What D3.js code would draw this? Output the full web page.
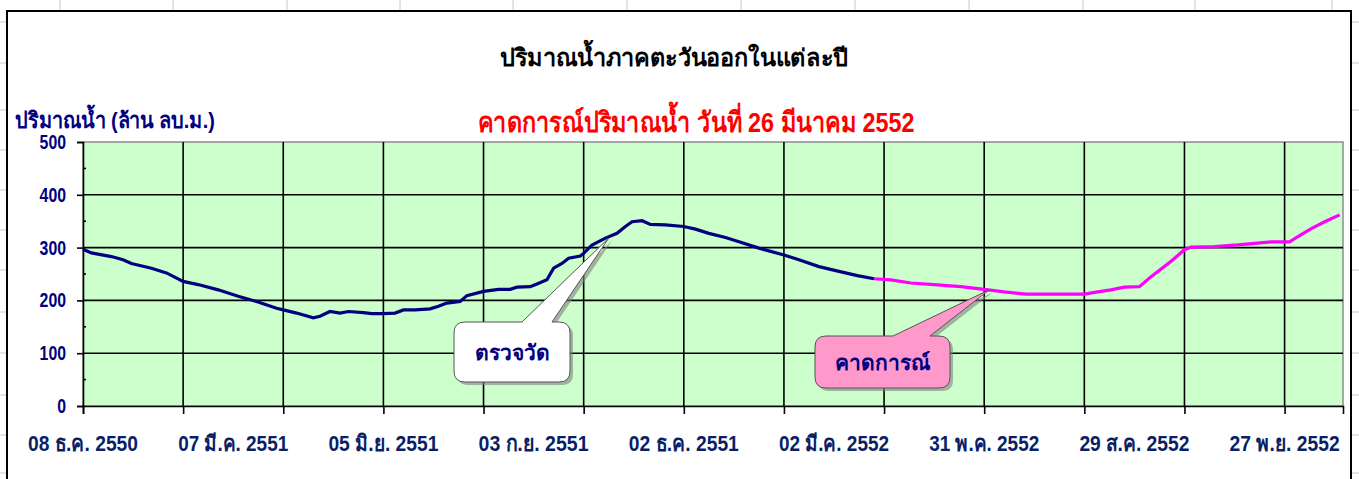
<!DOCTYPE html>
<meta charset="utf-8">
<style>
  body { margin: 0; background: #fff; }
  text { font-family: "Liberation Sans Narrow", "Arial Narrow", "Liberation Sans", sans-serif; font-weight: bold; }
</style>
<body>
<script src="https://cdn.jsdelivr.net/npm/d3@7/dist/d3.min.js"></script>
<script>

var width = 1359,
    height = 479;

// ตรวจวัด (measured)
var obsDates = ["2007-12-08","2007-12-13","2007-12-25","2008-01-01","2008-01-06","2008-01-18","2008-01-27",
  "2008-02-06","2008-02-15","2008-02-27","2008-03-10","2008-03-21","2008-04-02","2008-04-06","2008-04-14",
  "2008-04-24","2008-04-28","2008-05-04","2008-05-10","2008-05-15","2008-05-24","2008-05-29","2008-06-05",
  "2008-06-12","2008-06-17","2008-06-24","2008-07-03","2008-07-08","2008-07-13","2008-07-21","2008-07-25",
  "2008-08-04","2008-08-13","2008-08-20","2008-08-24","2008-09-01","2008-09-05","2008-09-11","2008-09-15",
  "2008-09-20","2008-09-24","2008-10-01","2008-10-03","2008-10-08","2008-10-16","2008-10-23","2008-10-28",
  "2008-11-01","2008-11-07","2008-11-12","2008-11-21","2008-12-02","2008-12-09","2008-12-17","2008-12-27",
  "2009-01-06","2009-01-16","2009-01-31","2009-02-09","2009-02-21","2009-03-05","2009-03-16","2009-03-26"];
var obsValues = [297,290,283,277,270,261,252,
  236,230,220,208,198,185,182,176,
  167,170,179,176,179,177,175,175,
  176,182,182,184,189,195,198,209,
  217,221,221,225,226,231,239,261,
  270,280,284,289,305,318,327,340,
  349,351,344,343,340,335,327,319,
  309,299,286,277,264,255,247,241];

// คาดการณ์ (forecast)
var fcDates = ["2009-03-26","2009-04-05","2009-04-17","2009-05-01","2009-05-17","2009-05-31","2009-06-12",
  "2009-06-25","2009-07-12","2009-07-30","2009-08-07","2009-08-15","2009-08-23","2009-09-01","2009-09-08",
  "2009-09-20","2009-09-28","2009-10-02","2009-10-16","2009-10-30","2009-11-19","2009-11-30","2009-12-05",
  "2009-12-13","2009-12-21","2009-12-30"];
var fcValues = [241,239,233,230,226,221,216,
  212,212,212,216,220,225,226,245,
  274,296,301,302,305,311,311,321,
  336,349,362];

var gridDates = ["2007-12-08","2008-02-06","2008-04-06","2008-06-05","2008-08-04","2008-10-03","2008-12-02",
  "2009-01-31","2009-04-01","2009-05-31","2009-07-30","2009-09-28","2009-11-27"];
var labelDates = ["2007-12-08","2008-03-07","2008-06-05","2008-09-03","2008-12-02","2009-03-02",
  "2009-05-31","2009-08-29","2009-11-27"];
var labelText = ["08 ธ.ค. 2550","07 มี.ค. 2551","05 มิ.ย. 2551","03 ก.ย. 2551","02 ธ.ค. 2551",
  "02 มี.ค. 2552","31 พ.ค. 2552","29 ส.ค. 2552","27 พ.ย. 2552"];
var yTicks = [0, 100, 200, 300, 400, 500];
var yMinor = [50, 150, 250, 350, 450];

var parse = d3.utcParse("%Y-%m-%d");

var svg = d3.select("body").append("svg")
    .attr("width", width)
    .attr("height", height);

// spreadsheet cells behind the chart
var cols = [60,173,287,400,513,627,741,855,969,1083,1195,1332],
    rows = [22,63,110,150,190,230,270,312,353,395,435,473];
svg.selectAll(".col").data(cols).enter().append("line")
    .attr("x1", d => d).attr("x2", d => d).attr("y1", 0).attr("y2", height)
    .attr("stroke", "#c8c8c8");
svg.selectAll(".row").data(rows).enter().append("line")
    .attr("x1", 0).attr("x2", width).attr("y1", d => d).attr("y2", d => d)
    .attr("stroke", "#c8c8c8");

// chart area
svg.append("rect")
    .attr("x", 7).attr("y", 11).attr("width", 1344).attr("height", 490)
    .attr("fill", "#fff").attr("stroke", "#000").attr("stroke-width", 2);

var x = d3.scaleUtc()
    .domain([parse("2007-12-08"), parse("2010-01-01")])
    .range([83, 1343]);
var y = d3.scaleLinear()
    .domain([0, 500])
    .range([406, 142]);

svg.append("rect")
    .attr("x", 83).attr("y", 142).attr("width", 1260).attr("height", 264)
    .attr("fill", "#ccffcc").attr("stroke", "#8c8c8c").attr("stroke-width", 1.5);

// grid
svg.append("g").selectAll("line").data(yTicks.slice(1, 5)).enter().append("line")
    .attr("x1", 83).attr("x2", 1343)
    .attr("y1", d => y(d)).attr("y2", d => y(d))
    .attr("stroke", "#000").attr("stroke-width", 1.6);
svg.append("g").selectAll("line").data(gridDates.slice(1)).enter().append("line")
    .attr("x1", d => x(parse(d))).attr("x2", d => x(parse(d)))
    .attr("y1", 142).attr("y2", 406)
    .attr("stroke", "#000").attr("stroke-width", 1.6);

// axes
var yAxis = svg.append("g")
    .attr("transform", "translate(83,0)")
    .call(d3.axisLeft(y).tickValues(yTicks).tickSize(6).tickPadding(11));
yAxis.select(".domain").attr("stroke-width", 1.6);
yAxis.selectAll(".tick line").attr("stroke-width", 1.6);
yAxis.selectAll("text")
    .attr("fill", "#000080")
    .attr("textLength", d => String(d).length * 8.8)
    .attr("lengthAdjust", "spacingAndGlyphs")
    .style("font-size", "20px");

svg.append("g").selectAll("line").data(yMinor).enter().append("line")
    .attr("x1", 83).attr("x2", 86)
    .attr("y1", d => y(d)).attr("y2", d => y(d))
    .attr("stroke", "#000").attr("stroke-width", 1.6);

var xAxis = svg.append("g")
    .attr("transform", "translate(0,406)")
    .call(d3.axisBottom(x).tickValues(gridDates.map(parse)).tickSize(8).tickFormat(""));
xAxis.select(".domain").attr("stroke-width", 1.6);
xAxis.selectAll(".tick line").attr("stroke-width", 1.6);

svg.append("g").selectAll("text").data(labelDates).enter().append("text")
    .attr("x", d => x(parse(d)))
    .attr("y", 451)
    .attr("text-anchor", "middle")
    .attr("fill", "#0a1f66")
    .attr("textLength", 110)
    .attr("lengthAdjust", "spacingAndGlyphs")
    .style("font-size", "22px")
    .text((d, i) => labelText[i]);

// lines
var line = d3.line()
    .x(d => x(d[0]))
    .y(d => y(d[1]));

svg.append("path")
    .datum(obsDates.map((d, i) => [parse(d), obsValues[i]]))
    .attr("d", line)
    .attr("fill", "none").attr("stroke", "#000080").attr("stroke-width", 3.2);
svg.append("path")
    .datum(fcDates.map((d, i) => [parse(d), fcValues[i]]))
    .attr("d", line)
    .attr("fill", "none").attr("stroke", "#ff00ff").attr("stroke-width", 3.2);

// callouts
function callout(bx, by, bw, bh, r, p1, p2, tx, ty) {
  return "M" + (bx + r) + "," + by +
    "L" + p1 + "," + by + "L" + tx + "," + ty + "L" + p2 + "," + by +
    "L" + (bx + bw - r) + "," + by +
    "Q" + (bx + bw) + "," + by + " " + (bx + bw) + "," + (by + r) +
    "L" + (bx + bw) + "," + (by + bh - r) +
    "Q" + (bx + bw) + "," + (by + bh) + " " + (bx + bw - r) + "," + (by + bh) +
    "L" + (bx + r) + "," + (by + bh) +
    "Q" + bx + "," + (by + bh) + " " + bx + "," + (by + bh - r) +
    "L" + bx + "," + (by + r) +
    "Q" + bx + "," + by + " " + (bx + r) + "," + by + "Z";
}

var notes = [
  {date: "2008-10-18", value: 318, bx: 454, by: 322, bw: 116, bh: 60, p1: 522, p2: 552, fill: "#fff", label: "ตรวจวัด"},
  {date: "2009-06-03", value: 220, bx: 815, by: 336, bw: 135, bh: 52, p1: 893, p2: 930, fill: "#ff99cc", label: "คาดการณ์"}
];

notes.forEach(function(n) {
  var tx = x(parse(n.date)), ty = y(n.value);
  svg.append("path")
      .attr("d", callout(n.bx + 3, n.by + 3, n.bw, n.bh, 11, n.p1 + 3, n.p2 + 3, tx + 3, ty + 3))
      .attr("fill", "#808080").attr("opacity", 0.6);
  svg.append("path")
      .attr("d", callout(n.bx, n.by, n.bw, n.bh, 11, n.p1, n.p2, tx, ty))
      .attr("fill", n.fill).attr("stroke", "#555").attr("stroke-width", 1);
  svg.append("text")
      .attr("x", n.bx + n.bw / 2).attr("y", n.by + n.bh / 2 + 8)
      .attr("text-anchor", "middle")
      .attr("fill", "#000080")
      .style("font-size", "21px")
      .text(n.label);
});

// titles
svg.append("text")
    .attr("x", 674).attr("y", 66)
    .attr("text-anchor", "middle")
    .attr("fill", "#000")
    .attr("textLength", 348)
    .attr("lengthAdjust", "spacingAndGlyphs")
    .style("font-size", "24px")
    .text("ปริมาณน้ำภาคตะวันออกในแต่ละปี");
svg.append("text")
    .attr("x", 696).attr("y", 132)
    .attr("text-anchor", "middle")
    .attr("fill", "#ff0000")
    .attr("textLength", 437)
    .attr("lengthAdjust", "spacingAndGlyphs")
    .style("font-size", "28px")
    .text("คาดการณ์ปริมาณน้ำ วันที่ 26 มีนาคม 2552");
svg.append("text")
    .attr("x", 15).attr("y", 128)
    .attr("fill", "#000080")
    .attr("textLength", 200)
    .attr("lengthAdjust", "spacingAndGlyphs")
    .style("font-size", "22px")
    .text("ปริมาณน้ำ (ล้าน ลบ.ม.)");

</script>
</body>
